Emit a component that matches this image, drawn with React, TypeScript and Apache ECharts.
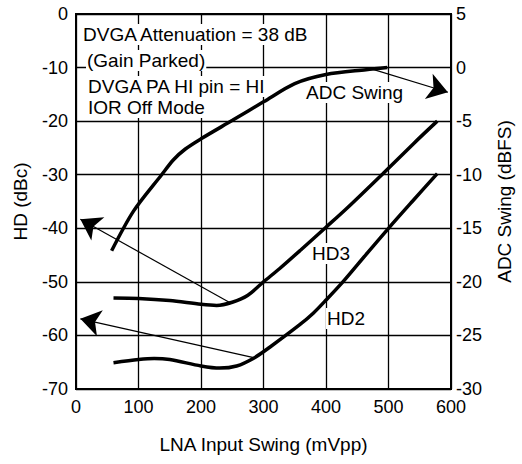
import React, { useEffect, useRef } from "react";
import * as echarts from "echarts";

// LNA input swing (mVpp) / HD (dBc) readings
const hd3X = [60, 100, 150, 200, 225, 250, 275, 300, 326, 360, 400, 433, 491, 540, 578];
const hd3Y = [-53.0, -53.1, -53.5, -54.2, -54.4, -53.8, -52.5, -50.0, -47.5, -44.0, -39.8, -36.3, -29.8, -24.2, -20.0];

const hd2X = [60, 100, 125, 150, 200, 230, 257, 285, 310, 358, 380, 400, 427, 464, 500, 538, 578];
const hd2Y = [-65.1, -64.5, -64.3, -64.5, -65.7, -66.1, -65.7, -64.2, -62.2, -58.0, -55.8, -53.4, -50.0, -44.9, -40.0, -35.0, -29.8];

// ADC swing in dBFS (right axis)
const adcX = [57, 92, 137, 156, 175, 200, 251, 300, 350, 400, 464, 498];
const adcY = [-17.1, -13.4, -10.0, -8.6, -7.6, -6.65, -4.9, -3.2, -1.5, -0.65, -0.2, 0.0];

// Arrows: [fromX, fromY] -> [toX, toY]
const hd3Arrow = [[248, -54.0], [7, -38.3]];
const hd2Arrow = [[286, -64.2], [7, -56.9]];
const adcArrow = [[466, 0.0], [595, -2.3]];

const noteLines = [
  "DVGA Attenuation = 38 dB",
  "(Gain Parked)",
  "DVGA PA HI pin = HI",
  "IOR Off Mode",
];

const FONT = "Liberation Sans, Arial, Helvetica, sans-serif";

function zip(xs: number[], ys: number[]) {
  return xs.map((x, i) => [x, ys[i]]);
}

function arrowMark(a: number[][]) {
  return {
    silent: true,
    symbol: ["none", "arrow"],
    symbolSize: 20,
    label: { show: false },
    lineStyle: { color: "#000", width: 1.2, type: "solid" },
    itemStyle: { color: "#000" },
    data: [[{ coord: a[0] }, { coord: a[1] }]],
  };
}

export default function App() {
  const ref = useRef<HTMLDivElement>(null);
  useEffect(() => {
    const chart = echarts.init(ref.current!, undefined, { renderer: "svg" });
    const lineSeries = (data: number[][], yAxisIndex: number, arrow: number[][]) => ({
      type: "line",
      yAxisIndex,
      data,
      smooth: 0.3,
      showSymbol: false,
      symbol: "none",
      lineStyle: { color: "#000", width: 3.5 },
      z: 3,
      markLine: arrowMark(arrow),
    });
    const noteY = [35, 61, 87, 108];
    const noteX = [82, 86, 87, 87];
    chart.setOption({
      animation: false,
      backgroundColor: "#fff",
      textStyle: { fontFamily: FONT },
      grid: {
        left: 76,
        right: 70,
        top: 14,
        bottom: 75,
        show: true,
        borderColor: "#000",
        borderWidth: 2,
        containLabel: false,
      },
      xAxis: {
        type: "value",
        min: 0,
        max: 600,
        interval: 100,
        name: "LNA Input Swing (mVpp)",
        nameLocation: "middle",
        nameGap: 46,
        nameTextStyle: { color: "#000", fontSize: 19, fontFamily: FONT },
        axisLine: { lineStyle: { color: "#000", width: 2 } },
        axisTick: { show: false },
        axisLabel: { color: "#000", fontSize: 18, margin: 9, fontFamily: FONT },
        splitLine: { show: true, lineStyle: { color: "#000", width: 1.3 } },
      },
      yAxis: [
        {
          type: "value",
          min: -70,
          max: 0,
          interval: 10,
          position: "left",
          name: "HD (dBc)",
          nameLocation: "middle",
          nameRotate: 90,
          nameGap: 46,
          nameTextStyle: { color: "#000", fontSize: 19, fontFamily: FONT },
          axisLine: { show: true, lineStyle: { color: "#000", width: 2 } },
          axisTick: { show: false },
          axisLabel: { color: "#000", fontSize: 18, margin: 8, fontFamily: FONT },
          splitLine: { show: true, lineStyle: { color: "#000", width: 1.3 } },
        },
        {
          type: "value",
          min: -30,
          max: 5,
          interval: 5,
          position: "right",
          name: "ADC Swing (dBFS)",
          nameLocation: "middle",
          nameRotate: 90,
          nameGap: 44,
          nameTextStyle: { color: "#000", fontSize: 19, fontFamily: FONT },
          axisLine: { show: true, lineStyle: { color: "#000", width: 2 } },
          axisTick: { show: false },
          axisLabel: { color: "#000", fontSize: 18, margin: 5, fontFamily: FONT },
          splitLine: { show: false },
        },
      ],
      series: [
        lineSeries(zip(adcX, adcY), 1, adcArrow),
        lineSeries(zip(hd3X, hd3Y), 0, hd3Arrow),
        lineSeries(zip(hd2X, hd2Y), 0, hd2Arrow),
      ],
      graphic: [
        ...noteLines.map((t, i) => ({
          type: "text",
          left: noteX[i],
          top: noteY[i] - 11,
          z: 10,
          style: {
            text: t,
            font: `19px ${FONT}`,
            fill: "#000",
            backgroundColor: "#fff",
            padding: [1, 1, 1, 1],
          },
        })),
        {
          type: "text",
          left: 305,
          top: 82,
          z: 10,
          style: { text: "ADC Swing", font: `19px ${FONT}`, fill: "#000", backgroundColor: "#fff", padding: [1, 1, 1, 1] },
        },
        {
          type: "text",
          left: 311,
          top: 243,
          z: 10,
          style: { text: "HD3", font: `19px ${FONT}`, fill: "#000", backgroundColor: "#fff", padding: [1, 1, 1, 1] },
        },
        {
          type: "text",
          left: 326,
          top: 308,
          z: 10,
          style: { text: "HD2", font: `19px ${FONT}`, fill: "#000", backgroundColor: "#fff", padding: [1, 1, 1, 1] },
        },
      ],
    });
    return () => chart.dispose();
  }, []);
  return (
    <div
      ref={ref}
      style={{ position: "fixed", left: 0, top: 0, width: 522, height: 464 }}
    />
  );
}
